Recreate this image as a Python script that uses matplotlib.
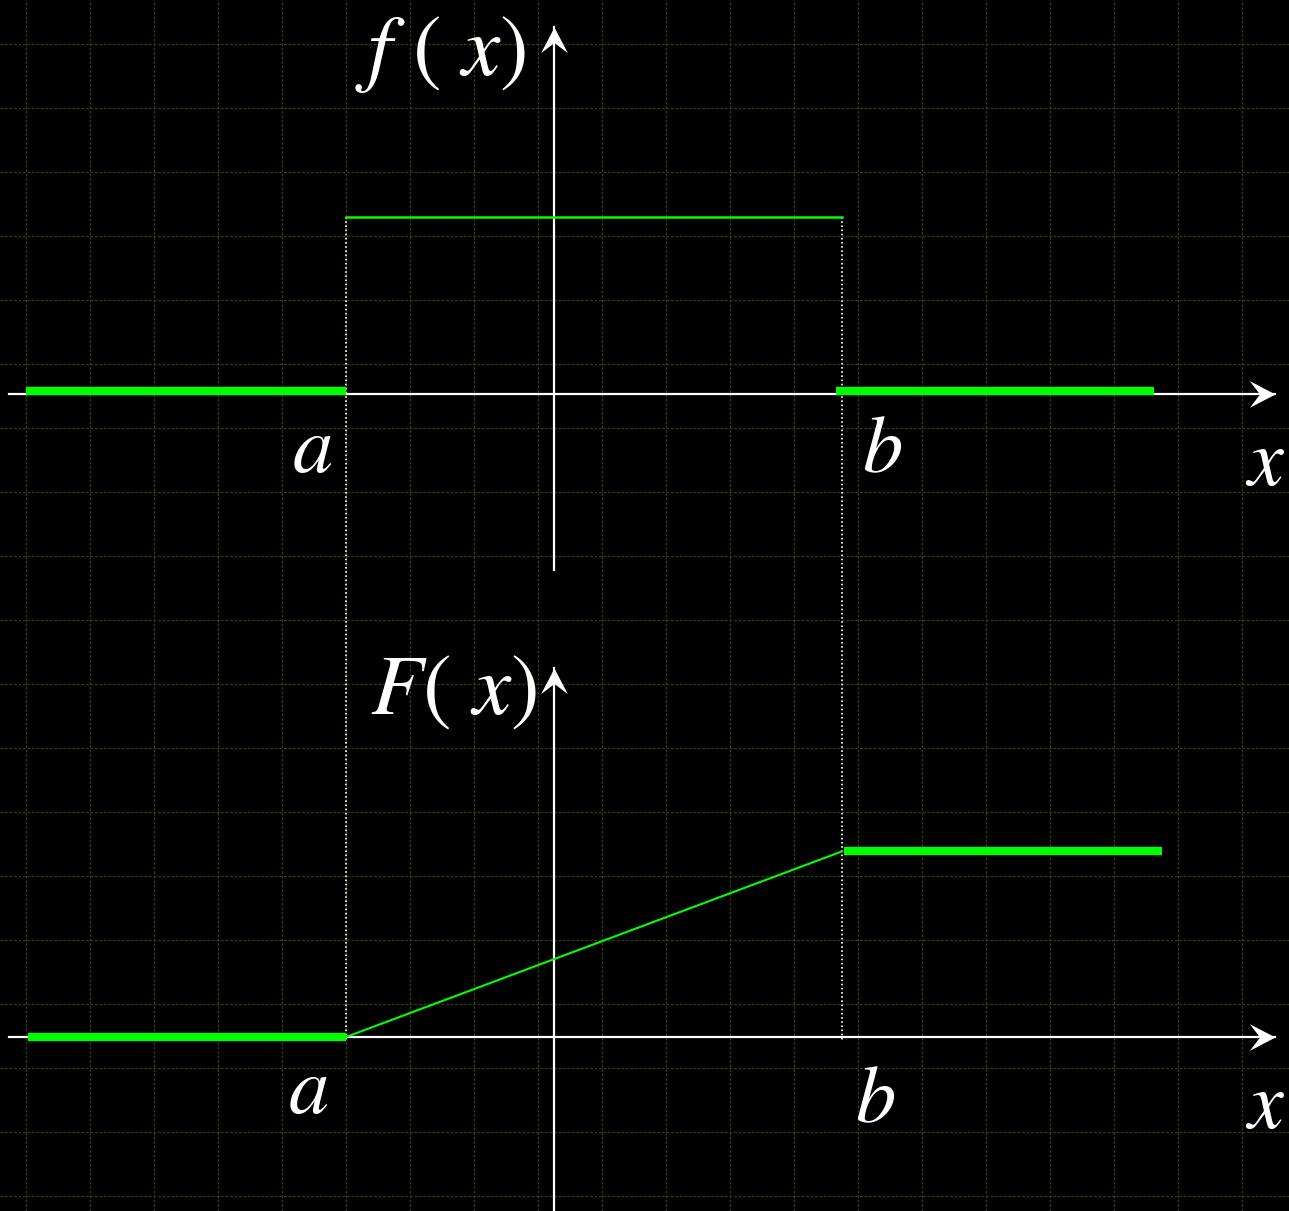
import matplotlib
matplotlib.use("Agg")
import matplotlib.pyplot as plt
import numpy as np
from matplotlib.path import Path

# Times-like letters for the labels
plt.rcParams["mathtext.fontset"] = "stix"

# Uniform distribution on [a, b]: density and distribution function
a = -3.25
b = 4.5
pdf_level = 2.77
cdf_level = 2.9

# Tails where both functions are flat
pdf_left = [-8.25, a]
pdf_right = [4.4, 9.375]
cdf_left = [-8.22, a]
cdf_right = [4.53, 9.5]

# Vertical shift of the upper (density) panel
TOP = 10.05

# Axis extents
x_axis = [-8.52, 11.27]
pdf_y_axis = [7.30, 15.78]
cdf_y_axis = [-2.75, 5.77]

# Grid positions
grid_x = np.arange(-8.25, 11.5, 1.0)
grid_y = np.arange(-2.484, 16.0, 1.0)

GREEN = "#00ff00"
WHITE = "white"


def arrow_marker(direction):
    # stealth-style head with the tip at the origin, pointing up
    verts = np.array([[0, 0], [-13, -25], [0, -15], [13, -25], [0, 0]], dtype=float)
    if direction == "right":
        verts = np.column_stack([verts[:, 1], -verts[:, 0]])
    codes = [Path.MOVETO, Path.LINETO, Path.LINETO, Path.LINETO, Path.CLOSEPOLY]
    return Path(verts, codes)


def draw_axes(ax, y0, y_axis):
    ax.plot(x_axis, [y0, y0], color=WHITE, lw=1.6, zorder=3)
    ax.plot([0, 0], y_axis, color=WHITE, lw=1.6, zorder=3)
    ax.plot(x_axis[1], y0, marker=arrow_marker("right"), ms=37,
            color=WHITE, mew=0, zorder=4)
    ax.plot(0, y_axis[1], marker=arrow_marker("up"), ms=37,
            color=WHITE, mew=0, zorder=4)


fig = plt.figure(figsize=(12.89, 12.11), dpi=100, facecolor="black")
ax = fig.add_axes([0, 0, 1, 1])
ax.set_facecolor("black")
ax.set_xlim(-554 / 64, (1289 - 554) / 64)
ax.set_ylim(-(1211 - 1037) / 64, 1037 / 64)

ax.set_xticks(grid_x)
ax.set_yticks(grid_y)
ax.grid(True, color="#3c3c00", lw=0.9, linestyle=(0, (2.2, 1.4)))
ax.tick_params(length=0, labelbottom=False, labelleft=False)
for s in ax.spines.values():
    s.set_visible(False)

draw_axes(ax, TOP, pdf_y_axis)
draw_axes(ax, 0, cdf_y_axis)

# density f(x)
ax.plot(pdf_left, [TOP + 0.04] * 2, color=GREEN, lw=6, solid_capstyle="butt", zorder=5)
ax.plot(pdf_right, [TOP + 0.04] * 2, color=GREEN, lw=6, solid_capstyle="butt", zorder=5)
ax.plot([a, b], [TOP + pdf_level] * 2, color=GREEN, lw=1.8, zorder=5)

# distribution F(x)
ax.plot(cdf_left, [0, 0], color=GREEN, lw=6, solid_capstyle="butt", zorder=5)
ax.plot(cdf_right, [cdf_level] * 2, color=GREEN, lw=6, solid_capstyle="butt", zorder=5)
ax.plot([a, b], [0, cdf_level], color=GREEN, lw=1.5, zorder=5)

# dotted guides at a and b
for xv in (a, b):
    ax.plot([xv, xv], [TOP + pdf_level, -0.05], color=WHITE, lw=1.2,
            linestyle=(0, (1, 1.5)), zorder=2)

txt = dict(color=WHITE, fontsize=58, ha="left", va="baseline", zorder=6)
big = dict(txt, fontsize=62)
ax.text(-3.11, 15.03, r"$f\ (\ x)$", **big)
ax.text(-2.875, 5.06, r"$F(\ x)$", **big)
ax.text(-4.09, 8.83, r"$a$", **txt)
ax.text(4.81, 8.83, r"$b$", **txt)
ax.text(10.8, 8.62, r"$x$", **txt)
ax.text(-4.16, -1.19, r"$a$", **txt)
ax.text(4.70, -1.33, r"$b$", **txt)
ax.text(10.8, -1.42, r"$x$", **txt)

fig.savefig("out.png", dpi=100, facecolor="black")
